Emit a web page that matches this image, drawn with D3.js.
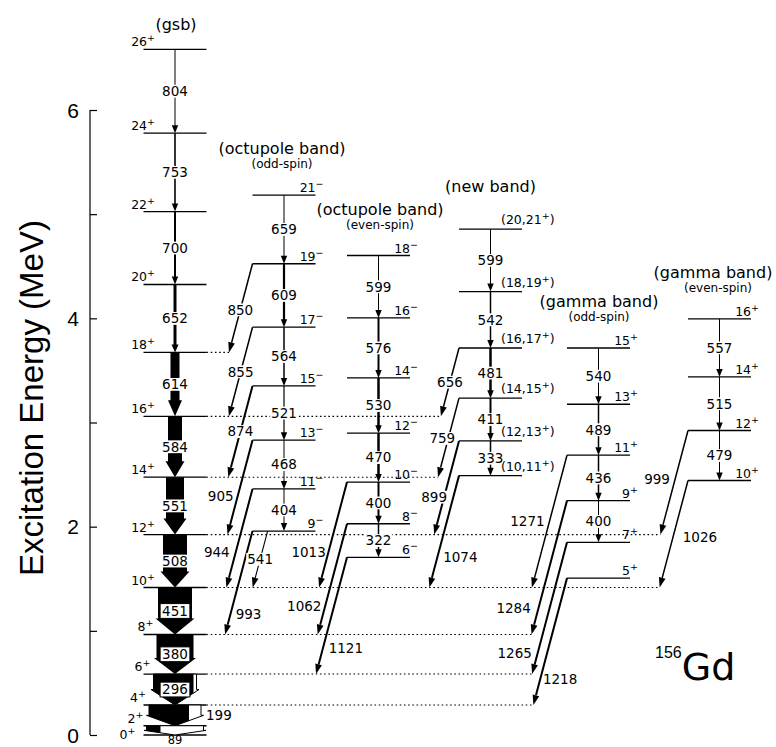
<!DOCTYPE html>
<html><head><meta charset="utf-8">
<script src="https://cdn.jsdelivr.net/npm/d3@7"></script>
<style>body{margin:0;background:#fff}svg{display:block}</style>
</head><body><svg id="c" width="776" height="747"></svg>
<script>
// ---------------- DATA ----------------
const yTickValues = [0, 1, 2, 3, 4, 5, 6];
const yTickLabels = ["0", "", "2", "", "4", "", "6"];
const yTitle = "Excitation Energy (MeV)";

const bandIds = ["gsb", "octOdd", "octEven", "newBand", "gammaOdd", "gammaEven"];
const bandTitles = ["(gsb)", "(octupole band)", "(octupole band)", "(new band)", "(gamma band)", "(gamma band)"];
const bandSubtitles = ["", "(odd-spin)", "(even-spin)", "", "(odd-spin)", "(even-spin)"];

// ground-state band (keV)
const gsbSpins = ["0", "2", "4", "6", "8", "10", "12", "14", "16", "18", "20", "22", "24", "26"];
const gsbEnergies = [0, 89, 288, 585, 965, 1416, 1924, 2475, 3059, 3673, 4325, 5025, 5778, 6582];
const gsbGammas = ["89", "199", "296", "380", "451", "508", "551", "584", "614", "652", "700", "753", "804"];
const gsbIntensity = [57, 52, 43, 37, 34, 24, 18, 14, 9, 3, 2, 1.6, 1];
const gsbConversion = [43, 12, 3, 0, 0, 0, 0, 0, 0, 0, 0, 0, 0];

// octupole band, odd spin
const octOddSpins = ["9", "11", "13", "15", "17", "19", "21"];
const octOddEnergies = [1958, 2362, 2830, 3351, 3915, 4524, 5183];
const octOddGammas = ["404", "468", "521", "564", "609", "659"];
const octOddIntensity = [1, 1, 1.2, 1.5, 2.2, 1];

// octupole band, even spin
const octEvenSpins = ["6", "8", "10", "12", "14", "16", "18"];
const octEvenEnergies = [1706, 2028, 2428, 2898, 3428, 4004, 4603];
const octEvenGammas = ["322", "400", "470", "530", "576", "599"];
const octEvenIntensity = [1.5, 2, 2.5, 2.5, 2, 1];

// new band
const newSpins = ["(10,11", "(12,13", "(14,15", "(16,17", "(18,19", "(20,21"];
const newEnergies = [2490, 2823, 3234, 3715, 4257, 4856];
const newGammas = ["333", "411", "481", "542", "599"];
const newIntensity = [1.5, 2, 2.5, 1.5, 1];

// gamma band, odd spin
const gammaOddSpins = ["5", "7", "9", "11", "13", "15"];
const gammaOddEnergies = [1506, 1850, 2250, 2686, 3175, 3715];
const gammaOddGammas = ["344", "400", "436", "489", "540"];
const gammaOddIntensity = [0, 1, 1.5, 1.5, 1];

// gamma band, even spin
const gammaEvenSpins = ["10", "12", "14", "16"];
const gammaEvenEnergies = [2443, 2923, 3438, 3995];
const gammaEvenGammas = ["479", "515", "557"];
const gammaEvenIntensity = [1, 1, 1];

// inter-band transitions (to gsb levels)
const linkLabels   = ["850","855","874","905","944","993","541","1013","1062","1121","656","759","899","1074","1271","1284","1265","1218","999","1026"];
const linkFromBand = ["octOdd","octOdd","octOdd","octOdd","octOdd","octOdd","octOdd","octEven","octEven","octEven","newBand","newBand","newBand","newBand","gammaOdd","gammaOdd","gammaOdd","gammaOdd","gammaEven","gammaEven"];
const linkFromSpin = ["19","17","15","13","11","9","9","10","8","6","(16,17","(14,15","(12,13","(10,11","11","9","7","5","12","10"];
const linkToSpin   = ["18","16","14","12","10","8","10","10","8","6","16","14","12","10","10","8","6","4","12","10"];
const linkIntensity = [1.5,1.5,2,2,2,2,1.1,2,2,2,1.5,1.5,2,2,1.5,2,2,2,1.5,1.5];

const nucleusMass = "156";
const nucleusSymbol = "Gd";

// ---------------- LAYOUT ----------------
const bandData = {
  gsb:      {spins: gsbSpins, E: gsbEnergies, gammas: gsbGammas, I: gsbIntensity, par: "+", tail: ""},
  octOdd:   {spins: octOddSpins, E: octOddEnergies, gammas: octOddGammas, I: octOddIntensity, par: "\u2212", tail: ""},
  octEven:  {spins: octEvenSpins, E: octEvenEnergies, gammas: octEvenGammas, I: octEvenIntensity, par: "\u2212", tail: ""},
  newBand:  {spins: newSpins, E: newEnergies, gammas: newGammas, I: newIntensity, par: "+", tail: ")"},
  gammaOdd: {spins: gammaOddSpins, E: gammaOddEnergies, gammas: gammaOddGammas, I: gammaOddIntensity, par: "+", tail: ""},
  gammaEven:{spins: gammaEvenSpins, E: gammaEvenEnergies, gammas: gammaEvenGammas, I: gammaEvenIntensity, par: "+", tail: ""}
};
const titleShift = [1, -2, 1.5, 0, 0.5, -6.5];
const titleOffset = [19, 41, 41, 37, 41, 41];
const subOffset = 27;
const linkLabelT   = [0.52,0.5,0.5,0.59,0.64,0.8,0.5,0.66,0.74,0.78,0.5,0.51,0.6,0.73,0.5,0.8,0.84,0.8,0.47,0.53];
const linkLabelOff = [0,0,0,-17,-19,18,0,-20,-21,23,0,-6,-10,23,-22,-25,-23,20,-18,27];
const linkStartFrac = linkLabels.map(l => l === "541" ? 0.24 : 0);
const slope = 0.265;

const FONT = "'DejaVu Sans', sans-serif";
const svg = d3.select("#c");
const y = d3.scaleLinear().domain([0, 6]).range([735, 110]);
const yk = e => y(e / 1000);
const xBand = d3.scaleOrdinal().domain(bandIds).range([175, 284, 378.5, 490.5, 598.5, 719.5]);
const levelW = 63;
const wScale = d3.scaleLinear().domain([0, 1]).range([0, 1]);

const gDot = svg.append("g");
const gLev = svg.append("g");
const gArr = svg.append("g");
const gLab = svg.append("g");

// ---------- axis ----------
const axis = d3.axisRight(y).tickValues(yTickValues).tickSize(7).tickFormat("");
const ga = svg.append("g").attr("transform", "translate(90,0)").call(axis);
ga.select(".domain").attr("d", `M0,${y(0)}V${y(6)}`).attr("stroke", "#000").attr("stroke-width", 1.2);
ga.selectAll(".tick line").attr("stroke", "#000").attr("stroke-width", 1.2);
svg.append("g").selectAll("text").data(yTickValues).join("text")
  .attr("x", 79).attr("y", d => y(d) + 7.5).attr("text-anchor", "end")
  .attr("font-family", "'Liberation Sans', Arial, sans-serif").attr("font-size", 21)
  .text((d, i) => yTickLabels[i]);
svg.append("text").attr("transform", "translate(43,398) rotate(-90)")
  .attr("text-anchor", "middle").attr("font-family", "'Liberation Sans', Arial, sans-serif")
  .attr("font-size", 33).text(yTitle);

// ---------- helpers ----------
function bgLabel(parent, x, cy, txt, opts = {}) {
  const g = parent.append("g");
  const r = g.append("rect").attr("fill", "#fff");
  const fs = opts.fs || 13.5;
  const t = g.append("text").attr("x", x).attr("y", cy + fs * 0.36)
    .attr("text-anchor", opts.anchor || "middle").attr("font-family", FONT)
    .attr("font-size", fs).text(txt);
  if (opts.bg !== false) {
    const bb = t.node().getBBox();
    const p = opts.pad == null ? 1 : opts.pad;
    r.attr("x", bb.x - p).attr("y", cy - fs * 0.4 - p).attr("width", bb.width + 2 * p).attr("height", fs * 0.8 + 2 * p);
    if (opts.box) r.attr("stroke", "#000").attr("stroke-width", 1);
  } else r.remove();
  return g;
}
function spinLabel(x, yb, anchor, main, sup, tail) {
  const t = gLab.append("text").attr("x", x).attr("y", yb).attr("text-anchor", anchor)
    .attr("font-family", FONT).attr("font-size", 12.5);
  t.append("tspan").text(main);
  t.append("tspan").attr("dy", -5).attr("font-size", 9.5).text(sup);
  if (tail) t.append("tspan").attr("dy", 5).text(tail);
}
function levelE(band, spin) {
  const b = bandData[band];
  return b.E[b.spins.indexOf(spin)];
}

// ---------- links & dotted lines ----------
const links = linkLabels.map((lab, i) => {
  const band = linkFromBand[i];
  const cx = xBand(band);
  const x1 = cx - levelW / 2 + linkStartFrac[i] * levelW;
  const y1 = yk(levelE(band, linkFromSpin[i]));
  const y2 = yk(levelE("gsb", linkToSpin[i]));
  const x2 = x1 - slope * (y2 - y1);
  return {lab, x1, y1, x2, y2, w: wScale(linkIntensity[i]), t: linkLabelT[i], off: linkLabelOff[i], to: linkToSpin[i]};
});

const gsbRight = xBand("gsb") + levelW / 2;
d3.rollups(links, v => d3.max(v, d => d.x2), d => d.to).forEach(([spin, xmax]) => {
  const yy = yk(levelE("gsb", spin));
  gDot.append("line").attr("x1", gsbRight).attr("x2", xmax).attr("y1", yy).attr("y2", yy)
    .attr("stroke", "#000").attr("stroke-width", 1.1).attr("stroke-dasharray", "1.6,2.6");
});

links.forEach(L => {
  const dx = L.x2 - L.x1, dy = L.y2 - L.y1, len = Math.hypot(dx, dy);
  const ux = dx / len, uy = dy / len, hl = 10, hw = 3.4;
  const bx = L.x2 - ux * hl, by = L.y2 - uy * hl;
  gArr.append("line").attr("x1", L.x1).attr("y1", L.y1).attr("x2", bx).attr("y2", by)
    .attr("stroke", "#000").attr("stroke-width", L.w);
  gArr.append("path").attr("d", `M${L.x2},${L.y2}L${bx - uy * hw},${by + ux * hw}L${bx + uy * hw},${by - ux * hw}Z`).attr("fill", "#000");
  const ly = L.y1 + L.t * dy, lx = L.x1 + L.t * dx + L.off;
  bgLabel(gLab, lx, ly, L.lab, {bg: Math.abs(L.off) < 12});
});

// ---------- bands ----------
bandIds.forEach((id, bi) => {
  const b = bandData[id];
  const cx = xBand(id);
  const xl = cx - levelW / 2, xr = cx + levelW / 2;
  const ys = b.E.map(yk);
  ys.forEach(yy => gLev.append("line").attr("x1", xl).attr("x2", xr).attr("y1", yy).attr("y2", yy)
    .attr("stroke", "#000").attr("stroke-width", 1.3));
  const top = d3.min(ys);
  gLab.append("text").attr("x", cx + titleShift[bi]).attr("y", top - titleOffset[bi]).attr("text-anchor", "middle")
    .attr("font-family", FONT).attr("font-size", 16).text(bandTitles[bi]);
  if (bandSubtitles[bi]) gLab.append("text").attr("x", cx + titleShift[bi] + (id === "gammaEven" ? 5 : 0)).attr("y", top - subOffset)
    .attr("text-anchor", "middle").attr("font-family", FONT).attr("font-size", 12).text(bandSubtitles[bi]);

  b.gammas.forEach((lab, i) => {
    const w = wScale(b.I[i]);
    if (w <= 0) return;
    const yT = ys[i + 1], yB = ys[i], gap = yB - yT, cy = (yT + yB) / 2;
    if (id === "gsb" && w >= 5) {
      const conv = wScale(gsbConversion[i]);
      const W = w, x0 = cx - W / 2, x1 = cx + W / 2;
      const hh = Math.min(16, gap * 0.5), hw = W / 2 + 2.5;
      const d = `M${x0},${yT}L${x1},${yT}L${x1},${yB - hh}L${cx + hw},${yB - hh}L${cx},${yB}L${cx - hw},${yB - hh}L${x0},${yB - hh}Z`;
      if (conv > 0) {
        gArr.append("path").attr("d", d).attr("fill", "#fff").attr("stroke", "#000").attr("stroke-width", 1);
        const cid = "clip" + i;
        svg.append("clipPath").attr("id", cid).append("rect")
          .attr("x", cx - hw - 1).attr("y", yT - 1).attr("width", (x0 - (cx - hw - 1)) + (W - conv)).attr("height", gap + 2);
        gArr.append("path").attr("d", d).attr("fill", "#000").attr("clip-path", `url(#${cid})`);
      } else {
        gArr.append("path").attr("d", d).attr("fill", "#000");
      }
      if (gap < 12) {
        bgLabel(gLab, cx, yB + 4.5, lab, {bg: false, fs: 11.5});
      } else if (gap < 25) {
        bgLabel(gLab, x1 + 5, cy, lab, {bg: false, anchor: "start"});
      } else {
        bgLabel(gLab, cx, cy, lab, {box: w >= 30, pad: w >= 30 ? 2 : 1});
      }
    } else {
      const hh = 8, hw = Math.max(3.2, w / 2 + 2);
      gArr.append("line").attr("x1", cx).attr("x2", cx).attr("y1", yT).attr("y2", yB - hh + 1)
        .attr("stroke", "#000").attr("stroke-width", w);
      gArr.append("path").attr("d", `M${cx - hw},${yB - hh}L${cx + hw},${yB - hh}L${cx},${yB}Z`).attr("fill", "#000");
      bgLabel(gLab, cx, cy, lab);
    }
  });

  b.spins.forEach((s, i) => {
    const yy = ys[i];
    if (id === "gsb") {
      const wAbove = i < b.gammas.length ? wScale(b.I[i]) : 0;
      const wBelow = i > 0 ? wScale(b.I[i - 1]) : 0;
      const mw = Math.max(wAbove, wBelow);
      const xe = Math.min(155, cx - mw / 2 - 3) - (i === 0 ? 8 : 0);
      spinLabel(xe, i === 0 ? yy + 4 : yy - 3, "end", s, b.par, "");
    } else if (id === "newBand") {
      spinLabel(xr - 21, yy - 5, "start", s, b.par, b.tail);
    } else {
      spinLabel(xr + 8, yy - 3, "end", s, b.par, "");
    }
  });
});

// ---------- nucleus label ----------
const nt = svg.append("text").attr("x", 655).attr("y", 680).attr("font-family", FONT);
nt.append("tspan").attr("font-size", 16).attr("font-family", "'Liberation Sans', sans-serif").attr("dy", -22).text(nucleusMass);
nt.append("tspan").attr("font-size", 38).attr("dy", 22).text(nucleusSymbol);
</script>
</body></html>
